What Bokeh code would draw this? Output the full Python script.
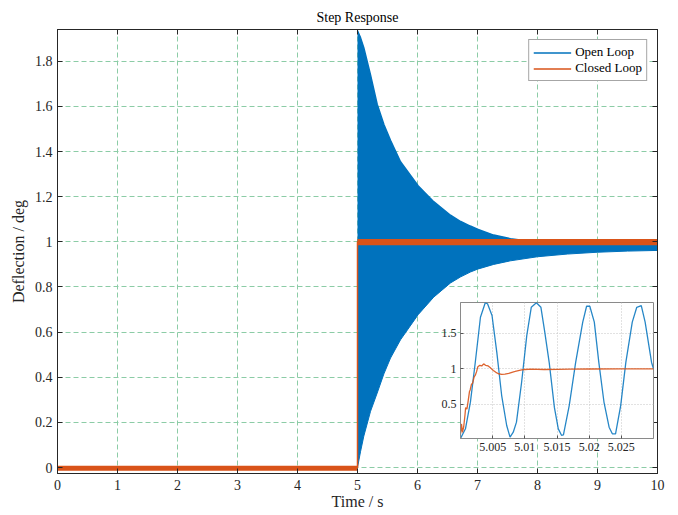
from bokeh.plotting import figure
from bokeh.models import Range1d, FixedTicker, LinearAxis, Legend, LegendItem
from bokeh.layouts import column
from bokeh.embed import file_html
from bokeh.resources import INLINE

# ---------------- data ----------------
# main axes ticks
xticks = [0, 1, 2, 3, 4, 5, 6, 7, 8, 9, 10]
xlabels = ["0", "1", "2", "3", "4", "5", "6", "7", "8", "9", "10"]
yticks = [0, 0.2, 0.4, 0.6, 0.8, 1, 1.2, 1.4, 1.6, 1.8]
ylabels = ["0", "0.2", "0.4", "0.6", "0.8", "1", "1.2", "1.4", "1.6", "1.8"]

# open loop: envelope of the fast oscillation (upper / lower)
ol_t = [5.0, 5.05, 5.105, 5.217, 5.328, 5.44, 5.55, 5.717, 6.01, 6.27, 6.55,
        6.72, 6.88, 7.0, 7.27, 7.55, 8.0, 8.5, 9.0, 9.5, 10.0]
ol_hi = [1.935, 1.905, 1.86, 1.74, 1.61, 1.52, 1.45, 1.355, 1.249, 1.178, 1.118,
         1.09, 1.07, 1.056, 1.03, 1.014, 0.998, 0.992, 0.99, 0.988, 0.987]
ol_lo = [0.0, 0.07, 0.139, 0.249, 0.33, 0.415, 0.485, 0.566, 0.677, 0.755, 0.818,
         0.845, 0.866, 0.879, 0.9, 0.916, 0.934, 0.946, 0.954, 0.959, 0.962]

# closed loop: noise band and nominal step
cl_t = [0.0, 5.0, 5.0, 10.0]
cl_lo = [-0.014, -0.014, 0.985, 0.985]
cl_hi = [0.008, 0.008, 1.013, 1.013]
step_t = [0.0, 5.0, 5.0, 10.0]
step_y = [0.0, 0.0, 1.0, 1.0]

# inset: zoom on the first 30 ms after the step
ins_t = [5.0, 5.00077, 5.00154, 5.0023, 5.0031, 5.00385, 5.0042, 5.0049, 5.00564,
         5.0064, 5.00718, 5.0077, 5.0082, 5.0087, 5.0095, 5.0103, 5.011, 5.0118,
         5.0125, 5.0131, 5.0138, 5.0146, 5.0152, 5.0157, 5.016, 5.0169, 5.0179,
         5.019, 5.0196, 5.0201, 5.0208, 5.0215, 5.0223, 5.0231, 5.0236, 5.0241,
         5.0249, 5.0257, 5.0267, 5.0274, 5.0281, 5.0287, 5.0297, 5.03]
ins_ol = [0.014, 0.151, 0.528, 1.093, 1.73, 1.934, 1.92, 1.754, 1.235,
          0.622, 0.198, 0.033, 0.103, 0.245, 0.81, 1.47, 1.87, 1.934,
          1.87, 1.52, 1.08, 0.45, 0.15, 0.06, 0.065, 0.48, 1.09,
          1.66, 1.885, 1.885, 1.66, 1.09, 0.53, 0.174, 0.08, 0.08,
          0.48, 1.09, 1.66, 1.87, 1.895, 1.66, 1.09, 1.0]
ins_cl_t = [5.0, 5.00015, 5.0003, 5.0005, 5.0007, 5.0008, 5.001, 5.0012, 5.0014,
            5.0015, 5.0017, 5.0019, 5.0021, 5.0023, 5.0025, 5.0027, 5.003, 5.0033,
            5.0036, 5.0039, 5.0043, 5.0047, 5.0051, 5.0055, 5.0059, 5.0064, 5.0069,
            5.0075, 5.008, 5.0085, 5.009, 5.0095, 5.01, 5.011, 5.013, 5.015, 5.017,
            5.02, 5.025, 5.03]
ins_cl = [0.08, 0.22, 0.10, 0.18, 0.35, 0.45, 0.43, 0.55, 0.68,
          0.70, 0.78, 0.80, 0.88, 0.91, 0.96, 1.03, 1.05, 1.04,
          1.07, 1.05, 1.04, 1.01, 0.975, 0.95, 0.93, 0.92, 0.925,
          0.935, 0.95, 0.962, 0.975, 0.985, 0.99, 0.995, 0.99, 0.992, 0.995,
          0.997, 1.0, 1.0]
ins_xticks = [5.005, 5.01, 5.015, 5.02, 5.025]
ins_xlabels = ["5.005", "5.01", "5.015", "5.02", "5.025"]
ins_yticks = [0.5, 1, 1.5]
ins_ylabels = ["0.5", "1", "1.5"]

# ---------------- styling ----------------
FONT = "Liberation Serif"
BLUE = "#0072BD"
ORANGE = "#D95319"
GRID = "#8ccca6"
AX = "#262626"
BL, BR = 57, 13   # shared left/right borders (column aligns frames)

p = figure(width=670, height=512, x_range=Range1d(0, 10), y_range=Range1d(-0.0265, 1.941),
           output_backend="svg", toolbar_location=None, title="Step Response",
           min_border_left=BL, min_border_right=BR, min_border_top=29, min_border_bottom=38)
p.title.align = "center"
p.title.text_font = FONT
p.title.text_font_size = "14px"
p.title.text_font_style = "normal"
p.title.text_color = "black"
p.title.standoff = 9
p.outline_line_color = AX
p.outline_line_width = 1
p.background_fill_color = "white"
p.border_fill_color = "white"

for ax, ticks, labels in ((p.xaxis[0], xticks, xlabels), (p.yaxis[0], yticks, ylabels)):
    ax.ticker = FixedTicker(ticks=ticks)
    ax.major_label_overrides = dict(zip(ticks, labels))
    ax.major_tick_in = 5
    ax.major_tick_out = 0
    ax.minor_tick_line_color = None
    ax.axis_line_color = AX
    ax.major_tick_line_color = AX
    ax.major_label_text_font = FONT
    ax.major_label_text_font_size = "14px"
    ax.major_label_text_color = AX
    ax.axis_label_text_font = FONT
    ax.axis_label_text_font_size = "16px"
    ax.axis_label_text_font_style = "normal"
    ax.axis_label_text_color = AX
p.xaxis.axis_label = "Time / s"
p.xaxis.major_label_standoff = 6
p.xaxis.axis_label_standoff = 0
p.yaxis.axis_label = "Deflection / deg"
p.yaxis.major_label_standoff = 5
p.yaxis.axis_label_standoff = 5

for g in (p.xgrid[0], p.ygrid[0]):
    g.grid_line_color = GRID
    g.grid_line_dash = "5 3"
    g.grid_line_width = 1

top = LinearAxis(ticker=FixedTicker(ticks=xticks), major_label_text_font_size="0px",
                 major_tick_in=5, major_tick_out=0, minor_tick_line_color=None,
                 major_label_standoff=0, axis_line_color=AX, major_tick_line_color=AX)
right = LinearAxis(ticker=FixedTicker(ticks=yticks), major_label_text_font_size="0px",
                   major_tick_in=5, major_tick_out=0, minor_tick_line_color=None,
                   major_label_standoff=0, axis_line_color=AX, major_tick_line_color=AX)
p.add_layout(top, "above")
p.add_layout(right, "right")

p.varea(x=ol_t, y1=ol_lo, y2=ol_hi, fill_color=BLUE)
r_ol = p.line(ol_t, ol_hi, line_color=BLUE, line_width=1.5)
p.line(ol_t, ol_lo, line_color=BLUE, line_width=1)
p.varea(x=cl_t, y1=cl_lo, y2=cl_hi, fill_color=ORANGE)
r_cl = p.line(step_t, step_y, line_color=ORANGE, line_width=1.5)

legend = Legend(items=[LegendItem(label="Open Loop", renderers=[r_ol]),
                       LegendItem(label="Closed Loop", renderers=[r_cl])],
                location="top_right", margin=10, padding=4, spacing=0,
                glyph_width=38, glyph_height=13, label_height=13, label_standoff=4,
                label_text_font=FONT, label_text_font_size="13px", label_text_color="black",
                border_line_color="#4d4d4d", border_line_width=1,
                background_fill_color="white", background_fill_alpha=1)
p.add_layout(legend)

# ---------------- inset ----------------
ins = figure(width=BL + 193 + BR, height=160, x_range=Range1d(5.0, 5.03),
             y_range=Range1d(0.014, 1.938), output_backend="svg", toolbar_location=None,
             min_border_left=BL, min_border_right=BR, min_border_top=3, min_border_bottom=21,
             border_fill_color=None, background_fill_color="white",
             outline_line_color="#8a8a8a", outline_line_width=1)
ins.margin = (-213, 0, 0, 460 - BL)
for ax, ticks, labels in ((ins.xaxis[0], ins_xticks, ins_xlabels), (ins.yaxis[0], ins_yticks, ins_ylabels)):
    ax.ticker = FixedTicker(ticks=ticks)
    ax.major_label_overrides = dict(zip(ticks, labels))
    ax.major_tick_in = 3
    ax.major_tick_out = 0
    ax.minor_tick_line_color = None
    ax.axis_line_color = "#8a8a8a"
    ax.major_tick_line_color = "#555555"
    ax.major_label_text_font = FONT
    ax.major_label_text_font_size = "12px"
    ax.major_label_text_color = AX
    ax.major_label_standoff = 4
for g in (ins.xgrid[0], ins.ygrid[0]):
    g.grid_line_color = "#c4c4c4"
    g.grid_line_dash = "1 2"
    g.grid_line_width = 1
ins.line(ins_t, ins_ol, line_color=BLUE, line_width=1.3, line_alpha=0.85)
ins.line(ins_cl_t, ins_cl, line_color=ORANGE, line_width=1.3, line_alpha=0.9)

layout = column(p, ins)
open("out.html", "w").write(file_html(layout, INLINE))
